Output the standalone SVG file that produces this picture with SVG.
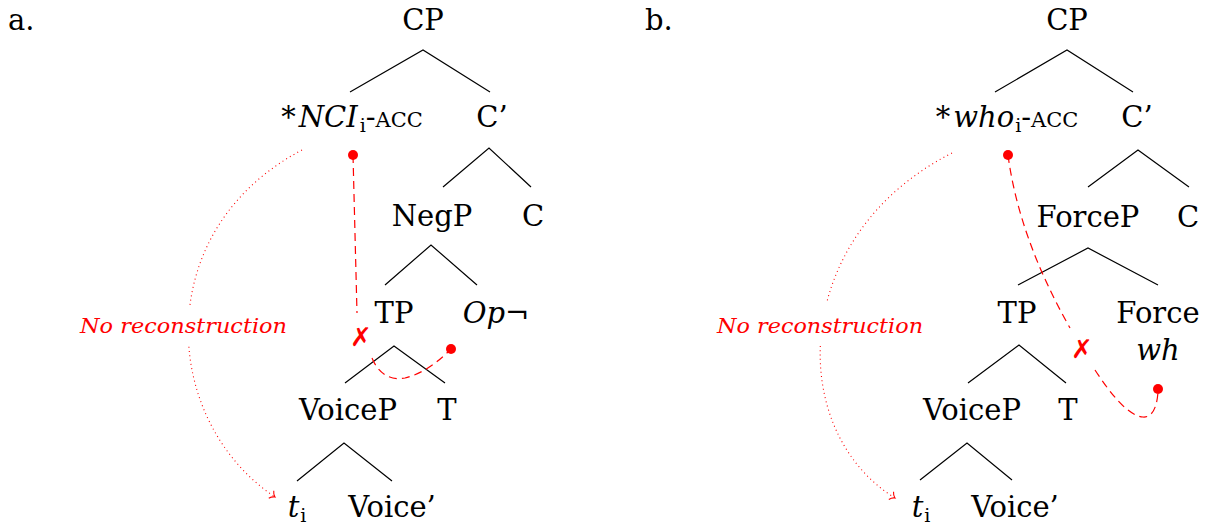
<svg xmlns="http://www.w3.org/2000/svg" width="1210" height="529" viewBox="0 0 1210 529" font-family="DejaVu Serif, Liberation Serif, serif">
<defs>
<style>
text{font-size:29px;fill:#000}
.m{text-anchor:middle}
.it{font-style:italic}
.sub{font-size:19px}
.sc{font-size:21px}
.nr{font-size:21px;font-style:italic;fill:#ff0000}
.x{font-size:26px;font-weight:bold;fill:#ff0000;text-anchor:middle}
.edge{fill:none;stroke:#000;stroke-width:1.2}
.dash{fill:none;stroke:#ff0000;stroke-width:1.2;stroke-dasharray:8 5}
.dot{fill:none;stroke:#ff0000;stroke-width:1.1;stroke-dasharray:1 3.3}
</style>
<marker id="to" viewBox="-6 -6 8 12" refX="0" refY="0" markerWidth="8" markerHeight="12" markerUnits="userSpaceOnUse" orient="auto">
<path d="M-4.5,-4.5 C-3,-1.5 -1,-0.4 0,0 C-1,0.4 -3,1.5 -4.5,4.5" fill="none" stroke="#ff0000" stroke-width="1.1" stroke-dasharray="none"/>
</marker>
</defs>
<rect width="1210" height="529" fill="#fff"/>

<g id="connectors">
<polyline class="edge" points="350,92 423,50 490,92"/>
<polyline class="edge" points="443,187 489,148 531,187"/>
<polyline class="edge" points="385,285 431,245 477,285"/>
<polyline class="edge" points="345,383 394,346 445,383"/>
<polyline class="edge" points="297,481 344,443 392,481"/>
<polyline class="edge" points="995,92 1067,50 1133,92"/>
<polyline class="edge" points="1088,187 1138,150 1189,187"/>
<polyline class="edge" points="1018,285 1088,248 1158,285"/>
<polyline class="edge" points="968,383 1019,345 1066,383"/>
<polyline class="edge" points="920,480 967,443 1012,480"/>
<path class="dot" d="M302,150 C150,230 160,420 275,497" marker-end="url(#to)"/>
<path class="dash" d="M353,155 L357,313"/>
<path class="dash" d="M372,358 C380,378 395,380 405,378 C425,373 440,360 451,349"/>
<circle cx="353" cy="155" r="5" fill="#ff0000"/>
<circle cx="451" cy="349" r="5" fill="#ff0000"/>
<path class="dot" d="M952,153 C790,235 785,430 895,498" marker-end="url(#to)"/>
<path class="dash" d="M1008,155 Q1019,238 1070,328"/>
<path class="dash" d="M1095,370 C1110,393 1128,416 1143,417 C1155,418 1158,400 1158,389"/>
<circle cx="1008" cy="155" r="5" fill="#ff0000"/>
<circle cx="1158" cy="389" r="5" fill="#ff0000"/>
<rect x="70" y="305" width="225" height="40" fill="#fff"/>
<rect x="705" y="303" width="228" height="40" fill="#fff"/>
</g>

<g id="labels-a">
<text x="8" y="30">a.</text>
<g id="a-CP"><text class="m" x="423" y="30">CP</text></g>
<g id="a-NCI"><text class="m" x="352" y="127">*<tspan class="it" dx="3">NCI</tspan><tspan class="sub" dx="2" dy="5">i</tspan><tspan dy="-5">-</tspan><tspan class="sc">ACC</tspan></text></g>
<g id="a-Cbar"><text class="m" x="492" y="127">C’</text></g>
<g id="a-NegP"><text class="m" x="432" y="226">NegP</text></g>
<g id="a-C"><text class="m" x="533" y="226">C</text></g>
<g id="a-TP"><text class="m" x="394" y="323">TP</text></g>
<g id="a-Op"><text class="m" x="496" y="323"><tspan class="it">Op</tspan>¬</text></g>
<g id="a-VoiceP"><text class="m" x="348" y="420">VoiceP</text></g>
<g id="a-T"><text class="m" x="447" y="420">T</text></g>
<g id="a-t"><text class="m" x="297" y="517"><tspan class="it">t</tspan><tspan class="sub" dx="1" dy="5">i</tspan></text></g>
<g id="a-Voicebar"><text class="m" x="392" y="517">Voice’</text></g>
<g id="a-NR"><text class="nr" x="80" y="333" textLength="207" lengthAdjust="spacingAndGlyphs">No reconstruction</text></g>
<g id="a-X"><text class="x" x="361" y="346" font-family="DejaVu Sans, sans-serif">✗</text></g>
</g>

<g id="labels-b">
<text x="645" y="30">b.</text>
<g id="b-CP"><text class="m" x="1067" y="30">CP</text></g>
<g id="b-who"><text class="m" x="1007" y="127">*<tspan class="it" dx="3">who</tspan><tspan class="sub" dx="1" dy="5">i</tspan><tspan dy="-5">-</tspan><tspan class="sc">ACC</tspan></text></g>
<g id="b-Cbar"><text class="m" x="1137" y="127">C’</text></g>
<g id="b-ForceP"><text class="m" x="1088" y="227">ForceP</text></g>
<g id="b-C"><text class="m" x="1188" y="227">C</text></g>
<g id="b-TP"><text class="m" x="1017" y="323">TP</text></g>
<g id="b-Force"><text class="m" x="1158" y="323">Force</text><text class="m it" x="1158" y="360">wh</text></g>
<g id="b-VoiceP"><text class="m" x="972" y="420">VoiceP</text></g>
<g id="b-T"><text class="m" x="1068" y="420">T</text></g>
<g id="b-t"><text class="m" x="921" y="517"><tspan class="it">t</tspan><tspan class="sub" dx="1" dy="5">i</tspan></text></g>
<g id="b-Voicebar"><text class="m" x="1015" y="517">Voice’</text></g>
<g id="b-NR"><text class="nr" x="717" y="333" textLength="206" lengthAdjust="spacingAndGlyphs">No reconstruction</text></g>
<g id="b-X"><text class="x" x="1082" y="358" font-family="DejaVu Sans, sans-serif">✗</text></g>
</g>
</svg>
